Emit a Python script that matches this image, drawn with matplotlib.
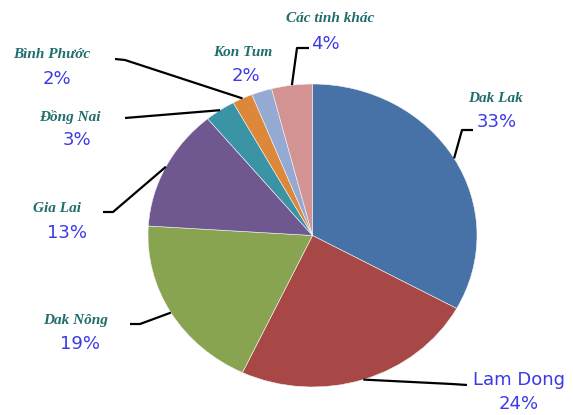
import numpy as np
import matplotlib
matplotlib.use("Agg")
import matplotlib.pyplot as plt

# data
labels = ["Dak Lak", "Lam Dong", "Dak Nông", "Gia Lai", "Đồng Nai",
          "Bình Phước", "Kon Tum", "Các tỉnh khác"]
values = [33, 24, 19, 13, 3, 2, 2, 4]
colors = ["#4672a8", "#a84846", "#89a450", "#6f5790", "#3b93a6",
          "#dc873a", "#95aad2", "#d39392"]

# pie geometry in pixels (image is slightly squashed vertically)
cx, cy, rx, ry = 312.5, 235.5, 164.5, 151.5
W, H = 573, 415


def px(x, y):
    return (x - cx) / rx, (cy - y) / ry


fig = plt.figure(figsize=(W / 100, H / 100), dpi=100)
ax = fig.add_axes([0, 0, 1, 1])
wedges, _ = ax.pie(values, colors=colors, startangle=90, counterclock=False,
                   wedgeprops=dict(edgecolor="#f4f4f4", linewidth=0.4))
ax.set_aspect("auto")
ax.set_xlim(px(0, 0)[0], px(W, 0)[0])
ax.set_ylim(px(0, H)[1], px(0, 0)[1])
ax.axis("off")

name_style = dict(family="Liberation Serif", weight="bold", style="italic",
                  color="#1f6d6d", fontsize=11, ha="center", va="center")
pct_style = dict(family="DejaVu Sans", color="#3a3ae8", fontsize=13,
                 ha="center", va="center")

# label positions (name, percent) and leader elbows, in pixels
name_pos = [(495, 98), (519, 380), (76, 320), (57, 208), (70, 117),
            (52, 55), (243, 53), (330, 19)]
pct_pos = [(497, 122), (519, 404), (80, 344), (67, 233), (77, 140),
           (57, 79), (246, 76), (325, 44)]
leaders = [
    [(462, 130), (473, 130)],
    [(452, 384), (467, 385)],
    [(140, 324), (130, 324)],
    [(113, 212), (103, 212)],
    [(125, 118)],
    [(125, 60), (115, 59)],
    [],
    [(297, 48), (309, 48)],
]

# wedge midpoints on the rim
cum = np.cumsum([0] + values)
total = cum[-1]
for i, v in enumerate(values):
    mid = np.deg2rad(90 - 360 * (cum[i] + v / 2) / total)
    pts = [(np.cos(mid), np.sin(mid))] + [px(*p) for p in leaders[i]]
    if leaders[i]:
        xs, ys = zip(*pts)
        ax.plot(xs, ys, color="black", lw=1.6, solid_capstyle="butt")

    pct = f"{v}%"
    if labels[i] == "Lam Dong":
        ax.text(*px(*name_pos[i]), labels[i], **pct_style)
    else:
        ax.text(*px(*name_pos[i]), labels[i], **name_style)
    ax.text(*px(*pct_pos[i]), pct, **pct_style)

fig.savefig("out.png", dpi=100)
